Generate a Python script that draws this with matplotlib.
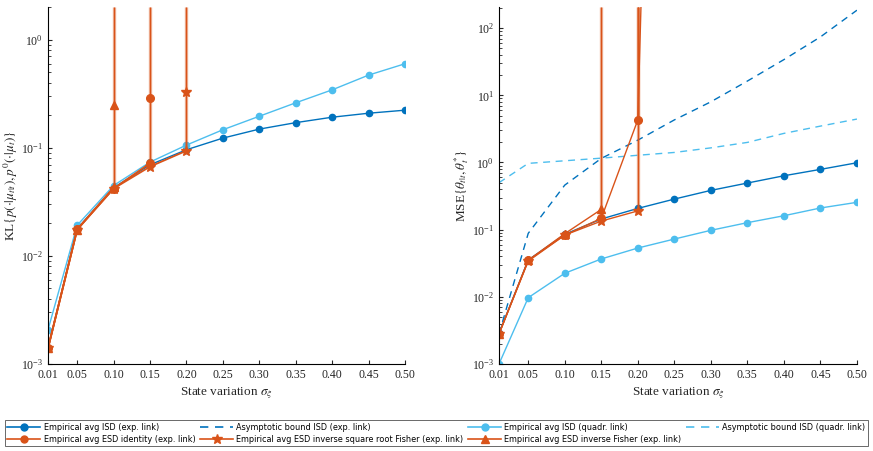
import numpy as np
import matplotlib.pyplot as plt
from matplotlib.lines import Line2D

plt.rcParams['font.family'] = ['Liberation Serif', 'DejaVu Serif']
plt.rcParams['mathtext.fontset'] = 'stix'

# colours (MATLAB default)
dark_blue = '#0072BD'
light_blue = '#4DBEEE'
orange = '#D95319'

sigma = [0.01, 0.05, 0.10, 0.15, 0.20, 0.25, 0.30, 0.35, 0.40, 0.45, 0.50]
xtick_labels = ['0.01', '0.05', '0.10', '0.15', '0.20', '0.25', '0.30', '0.35', '0.40', '0.45', '0.50']

# left panel: KL divergence
kl_isd_exp = [0.0014, 0.0178, 0.0427, 0.0697, 0.096, 0.123, 0.149, 0.171, 0.192, 0.209, 0.223]
kl_isd_quad = [0.00207, 0.0192, 0.0448, 0.0738, 0.106, 0.147, 0.196, 0.261, 0.344, 0.471, 0.600]
kl_esd_ident = [0.0014, 0.0176, 0.042, 0.072]
kl_esd_isqrt = [0.0014, 0.0175, 0.042, 0.067, 0.094]
kl_esd_inv = [0.0014, 0.0175, 0.043]
# divergent runs: (x, start value, marker value)
kl_spike_ident = (0.15, 0.072, 0.29)
kl_spike_isqrt = (0.20, 0.094, 0.33)
kl_spike_inv = (0.10, 0.043, 0.25)

# right panel: MSE
mse_isd_exp = [0.00286, 0.0353, 0.085, 0.144, 0.207, 0.285, 0.384, 0.494, 0.634, 0.789, 0.99]
mse_isd_quad = [0.001, 0.0097, 0.0224, 0.0366, 0.0532, 0.0724, 0.0977, 0.127, 0.161, 0.210, 0.255]
mse_bound_exp = [0.0028, 0.088, 0.46, 1.15, 2.15, 4.3, 8.0, 16.3, 34, 74, 185]
mse_bound_quad = [0.50, 0.97, 1.06, 1.16, 1.28, 1.41, 1.65, 1.99, 2.71, 3.48, 4.43]
mse_esd_ident = [0.0028, 0.035, 0.083, 0.147, 4.3, 1e20]
mse_esd_isqrt = [0.0028, 0.034, 0.083, 0.134, 0.19]
mse_esd_inv = [0.0028, 0.035, 0.087, 0.20]
mse_spike_ident = (0.20, 4.3, None)
mse_spike_isqrt = (0.20, 0.19, None)
mse_spike_inv = (0.15, 0.20, None)

fig = plt.figure(figsize=(8.73, 4.51), dpi=100)
ax1 = fig.add_axes([0.055, 0.193, 0.409, 0.791])
ax2 = fig.add_axes([0.5716, 0.193, 0.410, 0.791])

msz = {'o': 5.5, '*': 7, '^': 5.5}


def spike(ax, s, marker, top):
    x, lo, mv = s
    ax.vlines(x, lo, top, color=orange, lw=2.4, alpha=0.45)
    ax.vlines(x, lo, top, color=orange, lw=0.9)
    if mv is not None:
        ax.plot([x], [mv], marker=marker, color=orange, ms=msz[marker], ls='none')


def style(ax, ylim, ylabel):
    ax.set_yscale('log')
    ax.set_xlim(0.01, 0.50)
    ax.set_ylim(*ylim)
    ax.set_xticks(sigma)
    ax.set_xticklabels(xtick_labels)
    ax.spines['top'].set_visible(False)
    ax.spines['right'].set_visible(False)
    ax.tick_params(which='both', direction='in', labelsize=8.5, colors='#262626')
    ax.tick_params(which='major', length=3)
    ax.tick_params(which='minor', length=1.8)
    ax.set_xlabel(r'State variation $\sigma_\xi$', fontsize=9.5, color='#262626', labelpad=3)
    ax.set_ylabel(ylabel, fontsize=9.5, color='#262626', labelpad=1)


kw = dict(lw=1.0, ms=4.5, marker='o')
# left
ax1.plot(sigma, kl_isd_exp, color=dark_blue, **kw)
ax1.plot(sigma, kl_isd_quad, color=light_blue, **kw)
ax1.plot(sigma[:len(kl_esd_inv)], kl_esd_inv, color=orange, marker='^', ms=msz['^'], lw=1.3)
ax1.plot(sigma[:len(kl_esd_isqrt)], kl_esd_isqrt, color=orange, marker='*', ms=msz['*'], lw=1.3)
ax1.plot(sigma[:len(kl_esd_ident)], kl_esd_ident, color=orange, marker='o', ms=msz['o'], lw=1.3)
spike(ax1, kl_spike_inv, '^', 2)
spike(ax1, kl_spike_ident, 'o', 2)
spike(ax1, kl_spike_isqrt, '*', 2)
style(ax1, (1e-3, 2), r'KL$\{p(\cdot|\mu_{t|t}),p^0(\cdot|\mu_t)\}$')

# right
ax2.plot(sigma, mse_bound_exp, color=dark_blue, ls=(0, (5, 4)), lw=1.0)
ax2.plot(sigma, mse_bound_quad, color=light_blue, ls=(0, (5, 4)), lw=1.0)
ax2.plot(sigma, mse_isd_exp, color=dark_blue, **kw)
ax2.plot(sigma, mse_isd_quad, color=light_blue, **kw)
ax2.plot(sigma[:len(mse_esd_inv)], mse_esd_inv, color=orange, marker='^', ms=msz['^'], lw=1.0)
ax2.plot(sigma[:len(mse_esd_isqrt)], mse_esd_isqrt, color=orange, marker='*', ms=msz['*'], lw=1.0)
ax2.plot(sigma[:len(mse_esd_ident)], mse_esd_ident, color=orange, marker='o', ms=msz['o'], lw=1.0)
spike(ax2, mse_spike_inv, '^', 205)
spike(ax2, mse_spike_ident, 'o', 205)
spike(ax2, mse_spike_isqrt, '*', 205)
style(ax2, (1e-3, 205), r'MSE$\{\theta_{t|t},\theta_t^{*}\}$')

handles = [
    Line2D([], [], color=dark_blue, marker='o', ms=5, lw=1.2),
    Line2D([], [], color=orange, marker='o', ms=5, lw=1.2),
    Line2D([], [], color=dark_blue, ls=(0, (5, 4)), lw=1.2),
    Line2D([], [], color=orange, marker='*', ms=7, lw=1.2),
    Line2D([], [], color=light_blue, marker='o', ms=5, lw=1.2),
    Line2D([], [], color=orange, marker='^', ms=5.5, lw=1.2),
    Line2D([], [], color=light_blue, ls=(0, (5, 4)), lw=1.2),
]
labels = [
    'Empirical avg ISD (exp. link)',
    'Empirical avg ESD identity (exp. link)',
    'Asymptotic bound ISD (exp. link)',
    'Empirical avg ESD inverse square root Fisher (exp. link)',
    'Empirical avg ISD (quadr. link)',
    'Empirical avg ESD inverse Fisher (exp. link)',
    'Asymptotic bound ISD (quadr. link)',
]
leg = fig.legend(handles, labels, ncol=4, loc='lower center',
                 bbox_to_anchor=(0.5, 0.01),
                 prop={'family': 'DejaVu Sans', 'size': 5.9}, frameon=True,
                 fancybox=False, edgecolor='#262626', handlelength=4.0,
                 handletextpad=0.4, columnspacing=0.6, borderpad=0.35,
                 labelspacing=0.3, borderaxespad=0)
leg.get_frame().set_linewidth(0.6)

fig.savefig('out.png', dpi=100)
